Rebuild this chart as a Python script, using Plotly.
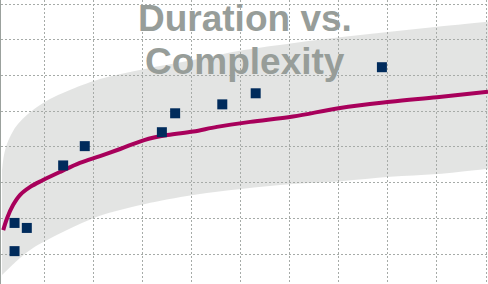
import plotly.graph_objects as go

obs_x = [0.40, 0.65, 0.40, 1.39, 1.83, 3.40, 3.67, 4.63, 5.31, 7.88]
obs_y = [1.87, 1.73, 1.08, 3.48, 4.02, 4.41, 4.94, 5.19, 5.50, 6.23]

# Fitted trend curve
fit_x = [0.17, 0.25, 0.37, 0.51, 0.72, 0.98, 1.33, 1.73, 2.14, 2.55,
         3.04, 3.51, 4.04, 4.52, 5.20, 6.07, 7.03, 8.05, 9.00, 10.04]
fit_y = [1.67, 2.01, 2.37, 2.65, 2.88, 3.07, 3.30, 3.55, 3.74, 3.94,
         4.19, 4.33, 4.43, 4.56, 4.70, 4.85, 5.09, 5.26, 5.39, 5.54]

# Confidence band edges
upper_x = [0.145, 0.185, 0.246, 0.369, 0.511, 0.776, 1.122, 1.468, 2.141,
           3.057, 4.035, 5.073, 6.092, 7.110, 8.047, 9.004, 10.043]
upper_y = [3.35, 3.77, 4.08, 4.44, 4.70, 5.03, 5.34, 5.56, 5.90,
           6.18, 6.43, 6.71, 6.91, 7.08, 7.22, 7.36, 7.50]
lower_x = [0.145, 0.511, 0.776, 1.000, 1.468, 2.079, 2.548, 3.057, 4.035,
           5.012, 6.071, 7.049, 8.047, 9.004, 10.043]
lower_y = [0.41, 0.89, 1.17, 1.34, 1.67, 2.04, 2.23, 2.40, 2.65,
           2.82, 2.96, 3.04, 3.16, 3.24, 3.39]

title_lines = ["Duration vs.", "Complexity"]

fig = go.Figure()
fig.add_trace(go.Scatter(
    x=lower_x, y=lower_y, mode="lines", line=dict(width=0, shape="spline"),
    hoverinfo="skip", showlegend=False))
fig.add_trace(go.Scatter(
    x=upper_x, y=upper_y, mode="lines", fill="tonexty",
    fillcolor="rgba(170,172,170,0.33)", line=dict(width=0, shape="spline"),
    hoverinfo="skip", showlegend=False))
fig.add_trace(go.Scatter(
    x=fit_x, y=fit_y, mode="lines",
    line=dict(color="#A8005B", width=4, shape="spline"), showlegend=False))
fig.add_trace(go.Scatter(
    x=obs_x, y=obs_y, mode="markers",
    marker=dict(symbol="square", size=10, color="#002B5C", line=dict(width=0)),
    showlegend=False))

for txt, yy in zip(title_lines, [0.935, 0.782]):
    fig.add_annotation(text=txt, x=0.5, xref="paper", y=yy, yref="paper",
                       xanchor="center", yanchor="middle", showarrow=False,
                       font=dict(family="Liberation Sans, Arial, sans-serif", size=37,
                                 color="#979D99", weight="bold"))

fig.update_layout(
    width=488, height=284,
    margin=dict(l=1, r=0, t=0, b=0),
    paper_bgcolor="white", plot_bgcolor="white",
    xaxis=dict(range=[0.1244, 10.04], dtick=1, tick0=0, showticklabels=False,
               showgrid=True, gridcolor="#A6ABA8", gridwidth=1.4, griddash="2px,2px",
               zeroline=False, showline=False, ticks=""),
    yaxis=dict(range=[0.160, 8.112], dtick=1, tick0=0, showticklabels=False,
               showgrid=True, gridcolor="#A6ABA8", gridwidth=1.4, griddash="2px,2px",
               zeroline=False, showline=True, linecolor="#9BA19D", linewidth=3, ticks=""),
)

fig.write_html("out.html", config={"displayModeBar": False},
               post_script="document.body.style.margin='0';document.body.style.padding='0';")
